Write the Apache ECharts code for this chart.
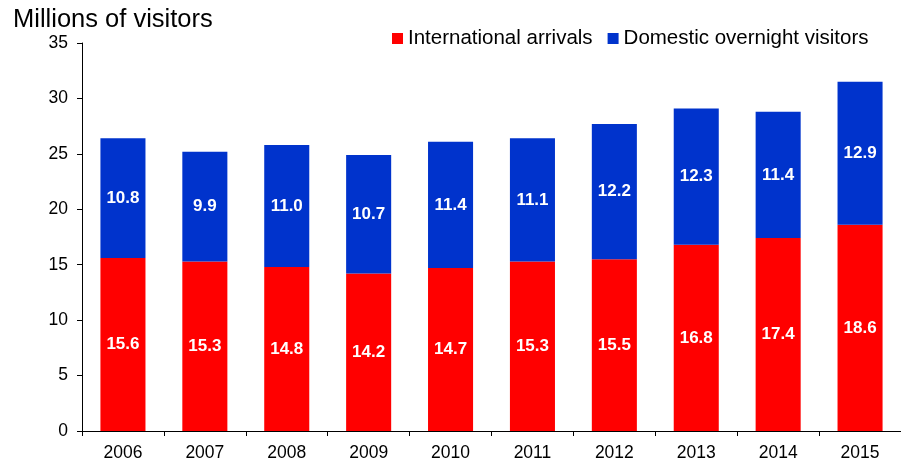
<!DOCTYPE html>
<html>
<head>
<meta charset="utf-8">
<script src="https://cdn.jsdelivr.net/npm/echarts@6/dist/echarts.min.js"></script>
<style>
  html, body { margin: 0; padding: 0; background: #fff; }
  #chart { width: 901px; height: 464px; }
</style>
</head>
<body>
<div id="chart"></div>
<script>
// Visitor numbers (millions) by year
const years = ['2006', '2007', '2008', '2009', '2010', '2011', '2012', '2013', '2014', '2015'];
const international = [15.6, 15.3, 14.8, 14.2, 14.7, 15.3, 15.5, 16.8, 17.4, 18.6];
const domestic = [10.8, 9.9, 11.0, 10.7, 11.4, 11.1, 12.2, 12.3, 11.4, 12.9];
const yTicks = [0, 5, 10, 15, 20, 25, 30, 35];

const FONT = 'Liberation Sans, Arial, sans-serif';

const chart = echarts.init(document.getElementById('chart'), null, { renderer: 'canvas' });

const barLabel = {
  show: true,
  position: 'inside',
  color: '#ffffff',
  fontFamily: FONT,
  fontWeight: 'bold',
  fontSize: 17,
  formatter: p => p.value.toFixed(1)
};

chart.setOption({
  animation: false,
  title: {
    text: 'Millions of visitors',
    left: 8,
    top: 2,
    textStyle: { fontFamily: FONT, fontSize: 25.5, fontWeight: 'normal', color: '#000' }
  },
  legend: {
    data: ['International arrivals', 'Domestic overnight visitors'],
    left: 387,
    top: 23,
    itemWidth: 11,
    itemHeight: 11,
    itemGap: 15,
    icon: 'rect',
    textStyle: { fontFamily: FONT, fontSize: 20.5, color: '#000', padding: [0, 0, 0, 0] }
  },
  grid: { left: 82, right: 0, top: 43, bottom: 33, containLabel: false },
  xAxis: {
    type: 'category',
    data: years,
    axisLine: { lineStyle: { color: '#000', width: 1 } },
    axisTick: { show: true, length: 5, alignWithLabel: false, lineStyle: { color: '#000' } },
    axisLabel: { fontFamily: FONT, fontSize: 17.5, color: '#000', margin: 13 }
  },
  yAxis: {
    type: 'value',
    min: yTicks[0],
    max: yTicks[yTicks.length - 1],
    interval: 5,
    axisLine: { show: true, lineStyle: { color: '#000', width: 1 } },
    axisTick: { show: true, length: 5, lineStyle: { color: '#000' } },
    splitLine: { show: false },
    axisLabel: { fontFamily: FONT, fontSize: 17.5, color: '#000', margin: 14 }
  },
  series: [
    {
      name: 'International arrivals',
      type: 'bar',
      stack: 'visitors',
      barWidth: '55%',
      data: international,
      itemStyle: { color: '#ff0000' },
      label: barLabel
    },
    {
      name: 'Domestic overnight visitors',
      type: 'bar',
      stack: 'visitors',
      barWidth: '55%',
      data: domestic,
      itemStyle: { color: '#0033cc' },
      label: barLabel
    }
  ]
});
</script>
</body>
</html>
